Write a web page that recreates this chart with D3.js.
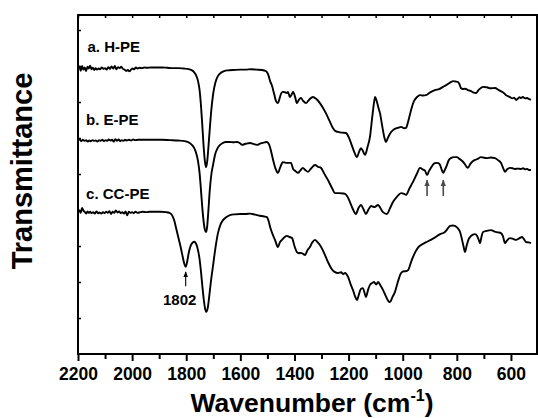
<!DOCTYPE html>
<html>
<head>
<meta charset="utf-8">
<script src="https://cdn.jsdelivr.net/npm/d3@7"></script>
<style>
  html, body { margin: 0; padding: 0; background: #fff; }
  svg { display: block; }
  text { font-family: Arial, "Liberation Sans", sans-serif; font-weight: bold; fill: #000; }
</style>
</head>
<body>
<svg id="chart" width="538" height="418"></svg>
<script>
// FTIR spectra: [wavenumber (cm-1), transmittance (a.u., offset traces)]
const hPE = [
  [2200,7.92],[2195,7.99],[2190,7.87],[2185,8.00],[2180,7.90],[2175,7.96],[2170,7.86],[2165,7.98],
  [2160,7.93],[2155,8.01],[2150,7.91],[2145,7.95],[2140,7.89],[2135,7.94],[2130,7.90],[2124,7.93],
  [2118,7.91],[2112,7.96],[2106,7.92],[2100,7.94],[2094,7.90],[2088,7.97],[2082,7.92],[2076,7.99],
  [2070,7.93],[2064,8.00],[2058,7.91],[2052,7.97],[2046,7.94],[2040,7.98],[2034,7.92],[2028,7.90],
  [2022,7.86],[2016,7.89],[2010,7.85],[2004,7.90],[1998,7.93],[1992,7.91],[1986,7.96],[1980,7.93],
  [1972,7.95],[1964,7.94],[1955,7.96],[1945,7.95],[1930,7.96],[1910,7.96],[1890,7.96],[1870,7.95],
  [1850,7.94],[1830,7.94],[1810,7.93],[1795,7.92],[1782,7.89],[1772,7.84],[1764,7.75],[1757,7.60],
  [1751,7.35],[1746,6.95],[1741,6.40],[1736,5.80],[1731,5.35],[1727,5.19],[1723,5.32],[1718,5.75],
  [1713,6.25],[1707,6.80],[1700,7.25],[1692,7.55],[1683,7.72],[1672,7.81],[1660,7.86],[1645,7.88],
  [1625,7.89],[1600,7.90],[1580,7.90],[1560,7.91],[1540,7.90],[1520,7.89],[1506,7.86],[1498,7.78],
  [1490,7.58],[1483,7.45],[1475,7.22],[1468,7.02],[1461,6.97],[1455,7.10],[1449,7.24],[1443,7.28],
  [1435,7.27],[1428,7.25],[1424,7.28],[1417,7.14],[1411,7.20],[1405,7.28],[1398,7.15],[1391,6.97],
  [1384,7.06],[1376,7.11],[1368,7.03],[1357,6.97],[1345,7.07],[1332,7.14],[1320,7.09],[1306,6.97],
  [1295,6.84],[1284,6.69],[1270,6.47],[1258,6.28],[1248,6.19],[1239,6.17],[1225,6.15],[1210,6.14],
  [1200,6.03],[1191,5.86],[1180,5.63],[1169,5.47],[1161,5.62],[1154,5.72],[1146,5.62],[1139,5.53],
  [1130,5.75],[1121,6.03],[1113,6.55],[1106,6.98],[1102,7.14],[1097,7.05],[1090,6.85],[1084,6.69],
  [1075,6.30],[1068,6.02],[1062,5.89],[1055,6.00],[1047,6.12],[1036,6.22],[1025,6.27],[1017,6.28],
  [1006,6.31],[995,6.27],[988,6.28],[980,6.45],[969,6.78],[958,7.03],[947,7.14],[936,7.19],
  [925,7.18],[914,7.19],[900,7.26],[881,7.33],[865,7.36],[851,7.42],[835,7.49],[822,7.55],
  [814,7.58],[805,7.57],[796,7.56],[790,7.49],[785,7.39],[777,7.36],[770,7.37],[763,7.35],
  [759,7.33],[750,7.31],[740,7.27],[729,7.25],[720,7.33],[712,7.38],[703,7.42],[690,7.41],
  [675,7.38],[659,7.39],[645,7.33],[630,7.27],[618,7.19],[605,7.14],[595,7.10],[588,7.12],
  [581,7.06],[575,7.09],[568,7.13],[563,7.11],[556,7.14],[548,7.10],[540,7.11],[533,7.08],[526,7.06]
];

const ePE = [
  [2200,5.93],[2194,5.97],[2188,5.91],[2182,5.95],[2176,5.92],[2170,5.94],[2164,5.90],[2158,5.93],
  [2152,5.91],[2146,5.94],[2140,5.92],[2134,5.93],[2128,5.90],[2122,5.94],[2116,5.92],[2110,5.95],
  [2104,5.91],[2098,5.94],[2092,5.92],[2086,5.96],[2080,5.93],[2074,5.95],[2068,5.90],[2062,5.97],
  [2056,5.92],[2050,5.96],[2044,5.91],[2038,5.94],[2032,5.92],[2026,5.95],[2020,5.93],[2012,5.95],
  [2004,5.93],[1996,5.96],[1988,5.94],[1978,5.95],[1965,5.95],[1950,5.95],[1920,5.95],[1890,5.95],
  [1860,5.94],[1830,5.93],[1810,5.92],[1795,5.89],[1782,5.83],[1772,5.74],[1764,5.60],[1757,5.38],
  [1751,5.05],[1746,4.60],[1741,4.10],[1736,3.70],[1731,3.45],[1727,3.39],[1723,3.52],[1718,4.00],
  [1713,4.55],[1707,5.00],[1701,5.25],[1693,5.55],[1684,5.72],[1675,5.81],[1665,5.86],[1655,5.89],
  [1640,5.89],[1625,5.88],[1612,5.89],[1600,5.85],[1594,5.81],[1580,5.84],[1564,5.86],[1550,5.83],
  [1539,5.81],[1525,5.85],[1510,5.88],[1502,5.89],[1494,5.82],[1486,5.62],[1479,5.39],[1470,5.15],
  [1461,5.03],[1453,5.18],[1443,5.33],[1432,5.31],[1424,5.31],[1413,5.31],[1405,5.14],[1396,5.08],
  [1387,5.03],[1378,5.10],[1369,5.17],[1360,5.11],[1350,5.06],[1338,5.16],[1324,5.25],[1313,5.20],
  [1302,5.17],[1290,5.01],[1276,4.83],[1262,4.62],[1250,4.47],[1235,4.47],[1220,4.46],[1213,4.45],
  [1205,4.38],[1195,4.22],[1184,4.02],[1173,3.89],[1163,4.06],[1154,4.14],[1145,4.02],[1136,3.89],
  [1126,4.02],[1117,4.11],[1104,4.08],[1091,4.14],[1082,4.05],[1073,3.94],[1058,3.89],[1047,4.05],
  [1036,4.22],[1020,4.38],[1006,4.47],[995,4.45],[988,4.42],[975,4.60],[962,4.78],[948,5.00],
  [936,5.17],[925,5.12],[918,5.10],[910,4.97],[903,5.08],[896,5.17],[886,5.28],[877,5.31],
  [868,5.30],[862,5.25],[856,5.12],[850,5.03],[844,5.12],[838,5.22],[830,5.38],[822,5.44],
  [810,5.47],[800,5.47],[790,5.42],[780,5.36],[770,5.27],[764,5.20],[759,5.17],[750,5.28],
  [740,5.36],[733,5.39],[720,5.43],[712,5.47],[703,5.46],[690,5.44],[675,5.46],[659,5.44],
  [647,5.38],[637,5.31],[629,5.17],[622,5.06],[614,5.13],[604,5.17],[594,5.16],[585,5.14],
  [575,5.15],[563,5.14],[555,5.16],[548,5.13],[540,5.14],[533,5.11],[526,5.11]
];

const ccPE = [
  [2200,3.96],[2195,3.99],[2190,3.92],[2185,4.06],[2180,3.98],[2175,3.95],[2170,3.90],[2165,3.96],
  [2160,3.92],[2155,3.95],[2150,3.91],[2144,3.94],[2138,3.90],[2132,3.96],[2126,3.91],[2120,3.93],
  [2114,3.90],[2108,3.94],[2102,3.91],[2096,3.95],[2090,3.92],[2084,3.97],[2078,3.89],[2072,3.95],
  [2066,3.92],[2060,3.99],[2054,3.93],[2048,3.96],[2042,3.91],[2036,3.94],[2030,3.90],[2024,3.96],
  [2018,3.85],[2012,3.95],[2006,3.92],[2000,3.94],[1994,3.91],[1988,3.95],[1980,3.92],[1970,3.94],
  [1960,3.95],[1948,3.94],[1935,3.95],[1915,3.95],[1895,3.95],[1875,3.94],[1862,3.92],[1852,3.85],
  [1844,3.70],[1836,3.45],[1828,3.20],[1820,2.95],[1813,2.70],[1807,2.50],[1802,2.42],[1797,2.55],
  [1791,2.80],[1784,3.00],[1776,3.10],[1769,3.12],[1763,3.05],[1757,2.90],[1751,2.65],[1745,2.25],
  [1740,1.85],[1735,1.50],[1730,1.25],[1725,1.17],[1720,1.30],[1715,1.60],[1709,2.00],[1701,2.45],
  [1692,2.95],[1683,3.35],[1673,3.60],[1664,3.72],[1650,3.81],[1638,3.86],[1620,3.88],[1601,3.89],
  [1580,3.89],[1564,3.90],[1545,3.87],[1527,3.84],[1512,3.82],[1502,3.80],[1495,3.68],[1490,3.53],
  [1481,3.33],[1472,3.17],[1465,3.02],[1461,2.97],[1454,3.10],[1446,3.17],[1437,3.24],[1428,3.28],
  [1418,3.25],[1409,3.22],[1400,3.00],[1391,2.83],[1384,2.80],[1376,2.81],[1368,2.78],[1361,2.75],
  [1352,2.88],[1343,2.97],[1334,3.10],[1324,3.17],[1315,3.11],[1306,3.03],[1295,2.88],[1284,2.69],
  [1274,2.52],[1265,2.39],[1252,2.28],[1239,2.25],[1228,2.27],[1220,2.22],[1213,2.25],[1202,2.14],
  [1193,1.95],[1184,1.78],[1176,1.60],[1169,1.50],[1162,1.65],[1155,1.80],[1147,1.83],[1141,1.70],
  [1136,1.58],[1128,1.78],[1121,1.92],[1113,1.97],[1106,2.00],[1098,1.93],[1091,2.00],[1082,1.90],
  [1073,1.78],[1062,1.60],[1053,1.47],[1047,1.44],[1038,1.58],[1029,1.72],[1018,2.00],[1006,2.25],
  [995,2.30],[988,2.30],[980,2.33],[968,2.58],[955,2.81],[944,2.95],[932,3.03],[915,3.10],
  [896,3.17],[880,3.24],[862,3.33],[850,3.36],[844,3.39],[835,3.47],[825,3.56],[815,3.57],
  [807,3.56],[797,3.50],[788,3.39],[780,3.15],[774,2.95],[770,2.83],[764,3.00],[757,3.18],
  [751,3.25],[742,3.31],[733,3.33],[725,3.28],[718,3.15],[714,3.08],[709,3.25],[703,3.39],
  [690,3.42],[674,3.44],[660,3.40],[648,3.38],[637,3.36],[630,3.28],[622,3.08],[615,3.15],
  [604,3.22],[592,3.20],[581,3.17],[570,3.21],[559,3.25],[552,3.19],[544,3.11],[535,3.10],[526,3.08]
];

// trace labels: [text, wavenumber anchor, transmittance anchor]
const traceLabels = [
  ["a. H-PE", 2165, 8.39],
  ["b. E-PE", 2170, 6.36],
  ["c. CC-PE", 2170, 4.30]
];

// marked bands: [wavenumber, transmittance at arrow tip, transmittance at arrow base, label]
const bandMarks = [
  [1802, 2.28, 1.88, "1802"],
  [910, 4.83, 4.39, ""],
  [850, 4.83, 4.39, ""]
];

const xMajorTicks = [2200, 2000, 1800, 1600, 1400, 1200, 1000, 800, 600];
const xMinorTicks = [2100, 1900, 1700, 1500, 1300, 1100, 900, 700];
const yTicks = [1, 2, 3, 4, 5, 6, 7, 8, 9];

const svg = d3.select("#chart");
const plotLeft = 78, plotRight = 538, plotTop = 15, plotBottom = 354;

const x = d3.scaleLinear().domain([2200, 500]).range([plotLeft, plotRight]);
const y = d3.scaleLinear().domain([0, (plotBottom - plotTop) / 36]).range([plotBottom, plotTop]);

// bottom axis: labelled major ticks and shorter minor ticks, pointing outward
const gBottom = svg.append("g").attr("transform", `translate(0,${plotBottom})`)
  .call(d3.axisBottom(x).tickValues(xMajorTicks).tickSizeInner(7).tickSizeOuter(0)
        .tickPadding(6).tickFormat(d3.format("d")));
gBottom.select(".domain").remove();
gBottom.selectAll(".tick line").attr("stroke", "#000").attr("stroke-width", 2);
gBottom.selectAll(".tick text").style("font-size", "17.5px").attr("font-family", null).attr("dy", "0.75em");

const gBottomMinor = svg.append("g").attr("transform", `translate(0,${plotBottom})`)
  .call(d3.axisBottom(x).tickValues(xMinorTicks).tickSizeInner(5).tickSizeOuter(0).tickFormat(""));
gBottomMinor.select(".domain").remove();
gBottomMinor.selectAll(".tick line").attr("stroke", "#000").attr("stroke-width", 2);

// top axis: short inward ticks every 100 cm-1
const gTop = svg.append("g").attr("transform", `translate(0,${plotTop})`)
  .call(d3.axisTop(x).tickValues(xMajorTicks.concat(xMinorTicks)).tickSizeInner(-3).tickSizeOuter(0).tickFormat(""));
gTop.select(".domain").remove();
gTop.selectAll(".tick line").attr("stroke", "#000").attr("stroke-width", 1.5);

// left axis: short inward ticks, no labels
const gLeft = svg.append("g").attr("transform", `translate(${plotLeft},0)`)
  .call(d3.axisLeft(y).tickValues(yTicks).tickSizeInner(-3).tickSizeOuter(0).tickFormat(""));
gLeft.select(".domain").remove();
gLeft.selectAll(".tick line").attr("stroke", "#000").attr("stroke-width", 1.5);

// frame
svg.append("rect")
  .attr("x", plotLeft).attr("y", plotTop)
  .attr("width", plotRight - plotLeft - 1).attr("height", plotBottom - plotTop)
  .attr("fill", "none").attr("stroke", "#000").attr("stroke-width", 2);

// spectra
const line = d3.line()
  .x(d => x(d[0]))
  .y(d => y(d[1]))
  .curve(d3.curveMonotoneX);

[hPE, ePE, ccPE].forEach(series => {
  svg.append("path")
    .datum(series)
    .attr("d", line)
    .attr("fill", "none")
    .attr("stroke", "#000")
    .attr("stroke-width", 1.9)
    .attr("stroke-linejoin", "round");
});

// trace labels
svg.selectAll("text.trace")
  .data(traceLabels)
  .enter().append("text")
  .attr("class", "trace")
  .attr("x", d => x(d[1]))
  .attr("y", d => y(d[2]))
  .style("font-size", "15px")
  .text(d => d[0]);

// arrows marking bands
const defs = svg.append("defs");
defs.append("marker")
  .attr("id", "head-black").attr("viewBox", "0 0 10 10")
  .attr("refX", 9).attr("refY", 5)
  .attr("markerWidth", 6).attr("markerHeight", 6)
  .attr("markerUnits", "userSpaceOnUse")
  .attr("orient", "auto")
  .append("path").attr("d", "M0,1 L10,5 L0,9 Z").attr("fill", "#000");
defs.append("marker")
  .attr("id", "head-grey").attr("viewBox", "0 0 10 10")
  .attr("refX", 9).attr("refY", 5)
  .attr("markerWidth", 7).attr("markerHeight", 7)
  .attr("markerUnits", "userSpaceOnUse")
  .attr("orient", "auto")
  .append("path").attr("d", "M0,1 L10,5 L0,9 Z").attr("fill", "#4a4a4a");

bandMarks.forEach(([w, tTip, tBase, label]) => {
  const grey = label === "";
  svg.append("line")
    .attr("x1", x(w)).attr("x2", x(w))
    .attr("y1", y(tBase)).attr("y2", y(tTip))
    .attr("stroke", grey ? "#4a4a4a" : "#000")
    .attr("stroke-width", grey ? 1.6 : 1.1)
    .attr("marker-end", grey ? "url(#head-grey)" : "url(#head-black)");
  if (label) {
    svg.append("text")
      .attr("x", x(w) - 6)
      .attr("y", y(tBase) + 19)
      .attr("text-anchor", "middle")
      .style("font-size", "15px")
      .text(label);
  }
});

// axis titles
const xTitle = svg.append("text")
  .attr("x", (plotLeft + plotRight) / 2 + 4)
  .attr("y", 412)
  .attr("text-anchor", "middle")
  .style("font-size", "26.5px");
xTitle.append("tspan").text("Wavenumber (cm");
xTitle.append("tspan").attr("dy", "-11").style("font-size", "16px").text("-1");
xTitle.append("tspan").attr("dy", "11").text(")");

svg.append("text")
  .attr("transform", `translate(32,171) rotate(-90)`)
  .attr("text-anchor", "middle")
  .style("font-size", "29px")
  .text("Transmittance");
</script>
</body>
</html>
